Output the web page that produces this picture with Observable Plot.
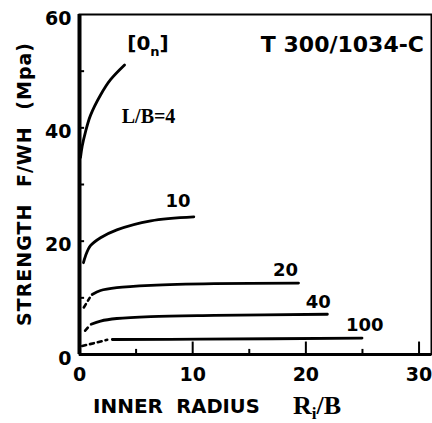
<!DOCTYPE html>
<html><head><meta charset="utf-8">
<script src="https://cdn.jsdelivr.net/npm/d3@7"></script>
<script src="https://cdn.jsdelivr.net/npm/@observablehq/plot@0.6"></script>
<style>body{margin:0;background:#fff} svg{display:block}</style>
</head><body><div id="chart"></div>
<script>
// tick values
const xTicks = [0, 10, 20, 30];
const xMinorTicks = [5, 15, 25];
const yTicks = [0, 20, 40, 60];
const yMinorTicks = [10, 20, 30, 40, 50];

// L/B series
const lb4X  = [0.09, 0.24, 0.53, 0.97, 1.86, 2.74, 3.98];
const lb4Y  = [34.8, 36.8, 39.3, 42.2, 45.8, 48.5, 51.1];
const lb10X = [0.35, 0.53, 0.97, 1.86, 3.3, 6.3, 10.1];
const lb10Y = [16.2, 17.4, 19.2, 20.6, 22.0, 23.6, 24.3];
const lb20DashX = [0.38, 0.9];
const lb20DashY = [8.3, 10.0];
const lb20X = [1.12, 1.86, 3.3, 6.3, 11.9, 19.35];
const lb20Y = [10.6, 11.3, 11.8, 12.2, 12.5, 12.6];
const lb40DashX = [0.5, 0.85];
const lb40DashY = [4.2, 5.0];
const lb40X = [1.03, 1.86, 3.3, 6.3, 11.9, 21.9];
const lb40Y = [5.35, 5.9, 6.35, 6.7, 6.9, 7.1];
const lb100DashX = [0.24, 1.27, 2.45];
const lb100DashY = [1.5, 2.0, 2.6];
const lb100X = [2.9, 10.7, 24.96];
const lb100Y = [2.65, 2.7, 2.9];

// curve labels
const curveLabels = ["L/B=4", "10", "20", "40", "100"];
const curveLabelX = [6.1, 8.7, 18.2, 21.1, 25.2];
const curveLabelY = [42, 27.1, 14.9, 9.3, 5.2];

const solid = [
  ["4", lb4X, lb4Y], ["10", lb10X, lb10Y], ["20", lb20X, lb20Y],
  ["40", lb40X, lb40Y], ["100", lb100X, lb100Y]
].flatMap(([s, xs, ys]) => xs.map((x, i) => ({s, x, y: ys[i]})));
const dashed = [
  ["20", lb20DashX, lb20DashY], ["40", lb40DashX, lb40DashY], ["100", lb100DashX, lb100DashY]
].flatMap(([s, xs, ys]) => xs.map((x, i) => ({s, x, y: ys[i]})));
const labels = curveLabels.map((t, i) => ({t, x: curveLabelX[i], y: curveLabelY[i], serif: i === 0}));

const sans = "DejaVu Sans";
const serif = "Liberation Serif";

const plot = Plot.plot({
  width: 432, height: 423,
  marginLeft: 79, marginRight: 1, marginTop: 14, marginBottom: 69,
  x: {domain: [0, 31.1]},
  y: {domain: [0, 60]},
  style: {fontFamily: sans, background: "white", color: "black"},
  marks: [
    Plot.frame({stroke: "black", strokeWidth: 2}),
    Plot.ruleX([0], {stroke: "black", strokeWidth: 4}),
    Plot.ruleY([0], {stroke: "black", strokeWidth: 3}),
    Plot.ruleX(xTicks.slice(1), {y1: 0, y2: 2.2, stroke: "black", strokeWidth: 2}),
    Plot.ruleX(xMinorTicks, {y1: 0, y2: 0.9, stroke: "black", strokeWidth: 2}),
    Plot.ruleY(yMinorTicks, {x1: 0, x2: 0.45, stroke: "black", strokeWidth: 2}),
    Plot.axisX({ticks: xTicks, tickSize: 0, tickPadding: 13, label: null,
      fontSize: 19, fontWeight: "bold", fontFamily: sans}),
    Plot.axisY({ticks: yTicks, tickSize: 0, tickPadding: 8, label: null, dy: 4,
      fontSize: 19, fontWeight: "bold", fontFamily: sans}),
    Plot.line(dashed, {x: "x", y: "y", z: "s", stroke: "black", strokeWidth: 2.6,
      strokeDasharray: "4 4", curve: "monotone-x"}),
    Plot.line(solid, {x: "x", y: "y", z: "s", stroke: "black", strokeWidth: 2.8,
      curve: "catmull-rom"}),
    Plot.text(labels.filter(d => !d.serif), {x: "x", y: "y", text: "t",
      fontSize: 18, fontWeight: "bold", fontFamily: sans, fill: "black"}),
    Plot.text(labels.filter(d => d.serif), {x: "x", y: "y", text: "t",
      fontSize: 20, fontWeight: "bold", fontFamily: serif, fill: "black"})
  ]
});

const svg = d3.select(plot);
// y-axis title
svg.append("text")
  .attr("transform", "translate(24,184) rotate(-90)")
  .attr("text-anchor", "middle").attr("dominant-baseline", "central")
  .attr("font-family", sans).attr("font-weight", "bold").attr("font-size", 19)
  .attr("letter-spacing", 1).attr("word-spacing", 9)
  .text("STRENGTH F/WH (Mpa)");
// x-axis title
svg.append("text").attr("x", 128).attr("y", 413)
  .attr("font-family", sans).attr("font-weight", "bold").attr("font-size", 20)
  .text("INNER");
svg.append("text").attr("x", 218).attr("y", 413)
  .attr("font-family", sans).attr("font-weight", "bold").attr("font-size", 19.5)
  .text("RADIUS");
const rb = svg.append("text").attr("x", 317).attr("y", 414)
  .attr("font-family", serif).attr("font-weight", "bold").attr("font-size", 26);
rb.append("tspan").text("R");
rb.append("tspan").attr("font-size", 17).attr("dy", 5).text("i");
rb.append("tspan").attr("dy", -5).text("/B");
// annotations
const on = svg.append("text").attr("x", 148).attr("y", 50)
  .attr("font-family", sans).attr("font-weight", "bold").attr("font-size", 20);
on.append("tspan").text("[0");
on.append("tspan").attr("font-size", 13).attr("dy", 6).text("n");
on.append("tspan").attr("dy", -6).text("]");
svg.append("text").attr("x", 424).attr("y", 52).attr("text-anchor", "end")
  .attr("font-family", sans).attr("font-weight", "bold").attr("font-size", 22)
  .text("T 300/1034-C");

document.getElementById("chart").append(plot);
</script>
</body></html>
